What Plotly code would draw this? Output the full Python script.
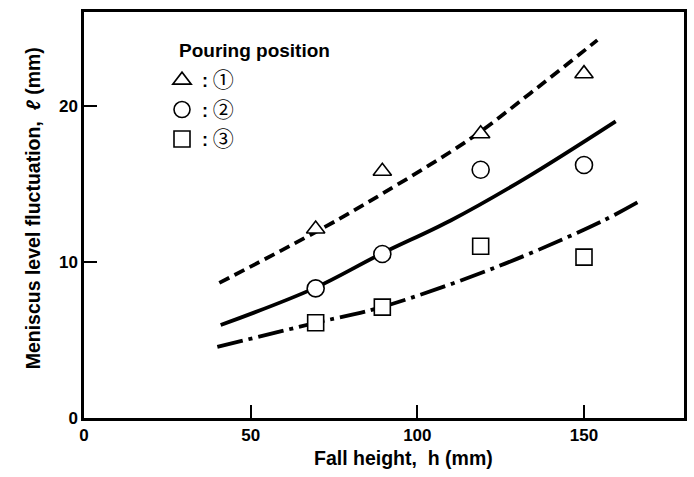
import plotly.graph_objects as go

# Measured points (fall height h in mm, meniscus level fluctuation in mm)
h_points = [69.5, 89.5, 119, 150]
pos1_vals = [12.1, 15.8, 18.2, 22.05]   # triangles
pos2_vals = [8.3, 10.5, 15.9, 16.2]     # circles
pos3_vals = [6.1, 7.1, 11.0, 10.3]      # squares

# Fitted curves
curve1_x = [40.6, 72, 89, 116, 136, 154]
curve1_y = [8.65, 12.2, 14.3, 17.9, 21.15, 24.2]
curve2_x = [41, 69, 89, 110, 132, 159.5]
curve2_y = [5.95, 8.3, 10.5, 12.65, 15.3, 19.0]
curve3_x = [40, 69.6, 89.3, 124.6, 155, 166.4]
curve3_y = [4.55, 6.1, 7.1, 9.74, 12.56, 13.85]

x_ticks = [0, 50, 100, 150]
y_ticks = [0, 10, 20]
DIGIT_STYLE = "font-family:Noto Sans CJK JP;font-weight:normal;font-size:21px"
legend_names = [f":<span style='{DIGIT_STYLE}'> \u2460</span>",
                f":<span style='{DIGIT_STYLE}'> \u2461</span>",
                f":<span style='{DIGIT_STYLE}'> \u2462</span>"]

FONT = "Liberation Sans, Arial, Helvetica, sans-serif"
INK = "black"

fig = go.Figure()

fig.add_trace(go.Scatter(x=curve1_x, y=curve1_y, mode="lines", showlegend=False,
                         line=dict(color=INK, width=3.8, dash="11px,6px", shape="spline")))
fig.add_trace(go.Scatter(x=curve2_x, y=curve2_y, mode="lines", showlegend=False,
                         line=dict(color=INK, width=3.8, shape="spline")))
fig.add_trace(go.Scatter(x=curve3_x, y=curve3_y, mode="lines", showlegend=False,
                         line=dict(color=INK, width=3.8, dash="26px,6px,4px,6px", shape="spline")))

marker_specs = [
    (pos1_vals, "triangle-up", 16),
    (pos2_vals, "circle", 17),
    (pos3_vals, "square", 16),
]
for (vals, sym, sz), name in zip(marker_specs, legend_names):
    fig.add_trace(go.Scatter(
        x=h_points, y=vals, mode="markers", name=name, legendgroup=name,
        marker=dict(symbol=sym, size=sz, color="white",
                    line=dict(color=INK, width=1.6)),
    ))

axis_common = dict(
    showgrid=False, zeroline=False, showline=True, linecolor=INK, linewidth=2.5,
    mirror=True, ticks="inside", ticklen=13, tickwidth=1.5, tickcolor=INK,
    tickfont=dict(family=FONT, size=17, color=INK, weight="bold"),
)

fig.update_layout(
    width=694, height=477,
    margin=dict(l=84, r=7, t=12, b=59),
    paper_bgcolor="white", plot_bgcolor="white",
    xaxis=dict(range=[0, 180], tickvals=x_ticks, **axis_common),
    yaxis=dict(range=[0, 26], tickvals=y_ticks, **axis_common),
    showlegend=True,
    legend=dict(x=0.13, y=0.877, xanchor="left", yanchor="top",
                bgcolor="rgba(0,0,0,0)", tracegroupgap=3,
                font=dict(family=FONT, size=18, color=INK, weight="bold")),
    annotations=[
        dict(text="Pouring position", xref="paper", yref="paper",
             x=0.155, y=0.906, xanchor="left", yanchor="middle", showarrow=False,
             font=dict(family=FONT, size=19, color=INK, weight="bold")),
        dict(text="Fall height,  h (mm)", xref="paper", yref="paper",
             x=0.532, y=-0.0985, xanchor="center", yanchor="middle", showarrow=False,
             font=dict(family=FONT, size=19.5, color=INK, weight="bold")),
        dict(text="Meniscus level fluctuation,  <i>\u2113</i> (mm)", xref="paper", yref="paper",
             x=-0.0846, y=0.517, xanchor="center", yanchor="middle", showarrow=False,
             textangle=-90,
             font=dict(family=FONT, size=19.5, color=INK, weight="bold")),
    ],
)

fig.write_html("out.html")
